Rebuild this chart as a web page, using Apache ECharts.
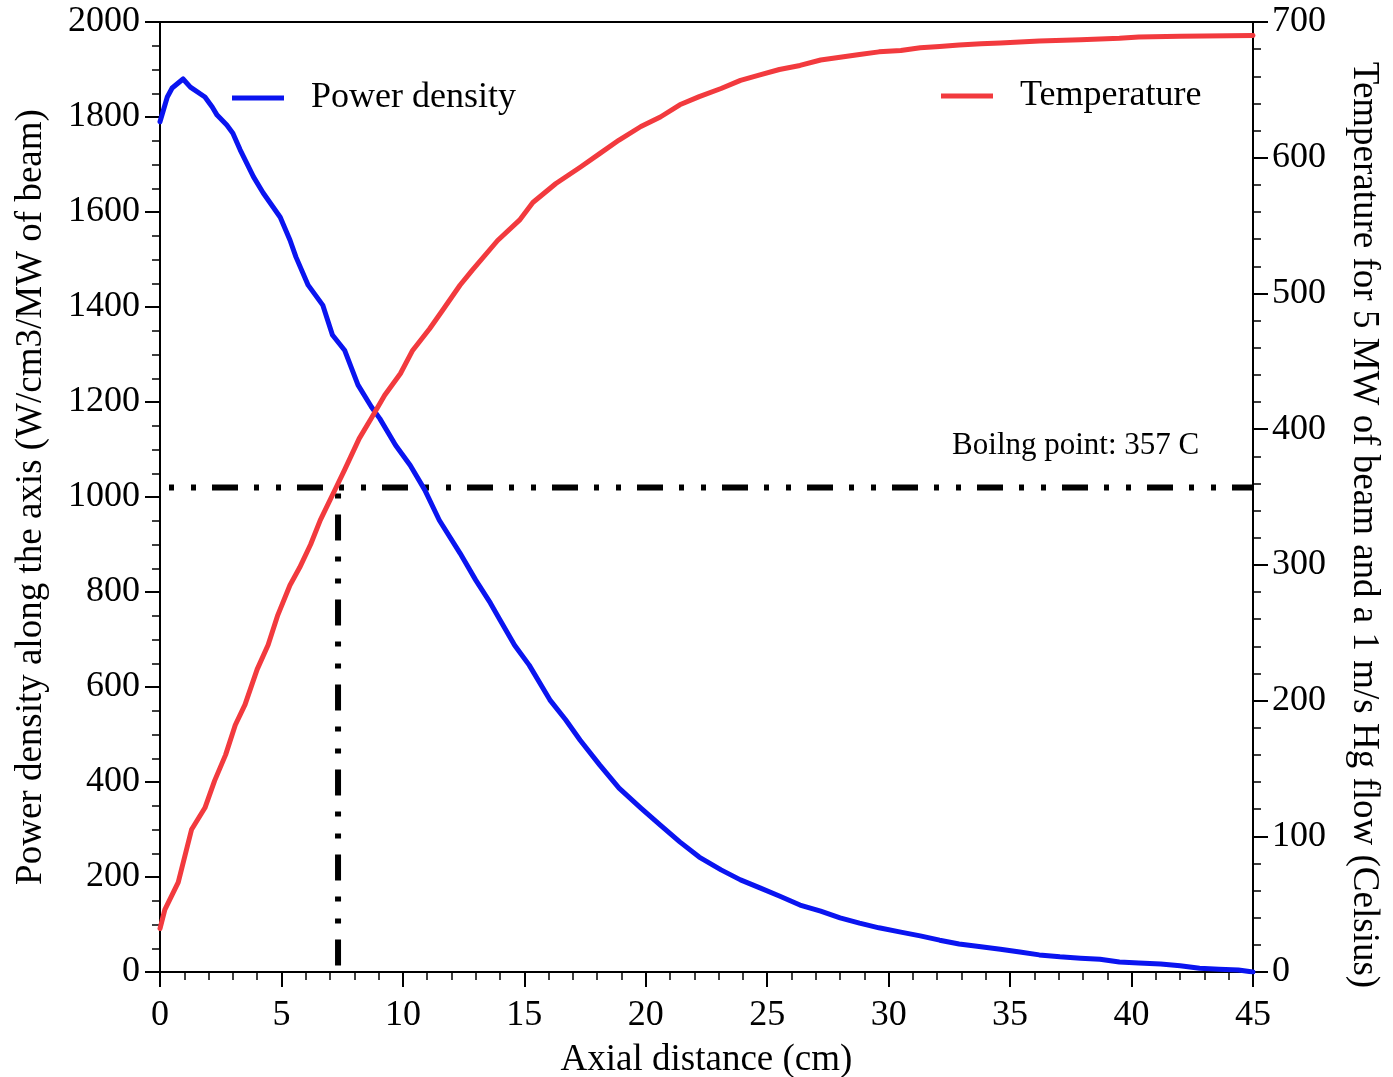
<!DOCTYPE html>
<html>
<head>
<meta charset="utf-8">
<script src="https://cdn.jsdelivr.net/npm/echarts@6/dist/echarts.min.js"></script>
<style>
  html, body { margin: 0; padding: 0; background: #fff; }
  #chart { width: 1393px; height: 1077px; }
</style>
</head>
<body>
<div id="chart"></div>
<script>
// Axial power density (left axis) and coolant temperature (right axis)
const powerX = [0, 0.3, 0.5, 0.95, 1.25, 1.85, 2.15, 2.35, 2.75, 3.0, 3.3, 3.85, 4.25, 4.95, 5.35, 5.6, 6.1, 6.7, 7.1, 7.6,
  8.15, 8.7, 9.05, 9.7, 10.3, 10.9, 11.5, 12.35, 13.0, 13.6, 14.0, 14.6, 15.2, 16.05, 16.7, 17.3, 18.1, 18.9, 19.8, 20.6,
  21.4, 22.2, 23.1, 23.9, 24.7, 25.5, 26.35, 27.2, 28.0, 28.8, 29.6, 30.5, 31.3, 32.1, 32.9, 33.8, 34.6, 35.4, 36.2, 37.05,
  37.9, 38.7, 39.5, 40.3, 41.2, 42.0, 42.8, 43.6, 44.4, 45];
const powerDensity = [1790, 1842, 1861, 1880, 1863, 1842, 1821, 1804, 1783, 1766, 1731, 1674, 1640, 1589, 1541, 1505, 1446, 1404, 1341, 1309,
  1236, 1190, 1165, 1109, 1067, 1015, 951, 882, 825, 777, 741, 688, 646, 573, 531, 488, 436, 387, 345, 309,
  274, 242, 215, 194, 177, 160, 141, 128, 114, 103, 93, 84, 76, 67, 59, 53, 48, 42, 36, 32,
  29, 27, 21, 19, 17, 13, 8, 6, 4, 0];

const tempX = [0, 0.2, 0.75, 1.3, 1.85, 2.25, 2.7, 3.1, 3.5, 4.0, 4.45, 4.85, 5.35, 5.75, 6.2, 6.6, 7.25, 7.6, 8.2, 8.7,
  9.25, 9.9, 10.4, 11.1, 11.65, 12.35, 12.85, 13.9, 14.8, 15.35, 16.3, 17.3, 18.1, 18.9, 19.8, 20.6, 21.4, 22.2, 23.1, 23.9,
  24.7, 25.5, 26.35, 27.2, 28.0, 28.8, 29.6, 30.5, 31.3, 32.1, 32.9, 33.8, 34.6, 36.2, 37.9, 39.5, 40.3, 42, 45];
const temperature = [32, 46, 66, 105, 121, 141, 160, 182, 197, 223, 241, 263, 285, 298, 315, 333, 357, 370, 393, 408,
  425, 441, 458, 474, 488, 506, 517, 539, 554, 567, 581, 593, 603, 613, 623, 630, 639, 645, 651, 657,
  661, 665, 668, 672, 674, 676, 678, 679, 681, 682, 683, 684, 684.5, 686, 687, 688, 689, 689.5, 690];

// Boiling point of mercury and the distance where the coolant reaches it
const boilingPoint = 357;
const boilingDistance = 7.33;
const boilingLabelX = 37.7;

const xTicks = { min: 0, max: 45, interval: 5 };
const leftTicks = { min: 0, max: 2000, interval: 200 };
const rightTicks = { min: 0, max: 700, interval: 100 };

const FONT = '"Liberation Serif", "Times New Roman", serif';
const BLUE = '#0a14f0';
const RED = '#f23a3e';
const dashDot = [26, 16, 5, 17, 5, 16];

const zip = (xs, ys) => xs.map((x, i) => [x, ys[i]]);
const plain = v => String(v);

const axisCommon = {
  axisLine: { show: true, lineStyle: { color: '#000', width: 2 } },
  axisTick: { show: true, inside: false, length: 15, lineStyle: { color: '#000', width: 2 } },
  minorTick: { show: true, length: 8, lineStyle: { color: '#000', width: 1.5 } },
  splitLine: { show: false },
  axisLabel: { color: '#000', fontFamily: FONT, fontSize: 36, formatter: plain },
  nameTextStyle: { color: '#000', fontFamily: FONT, fontSize: 37 },
  nameLocation: 'middle'
};

const legendText = { fontFamily: FONT, fontSize: 36, color: '#000', padding: [0, 0, 0, 22], lineHeight: 40 };

const chart = echarts.init(document.getElementById('chart'), null, { renderer: 'canvas' });
chart.setOption({
  animation: false,
  backgroundColor: '#fff',
  grid: {
    left: 160, right: 140, top: 22, bottom: 105,
    outerBoundsMode: 'none', containLabel: false,
    show: true, borderColor: '#000', borderWidth: 2, backgroundColor: 'transparent'
  },
  legend: [
    {
      data: ['Power density'], left: 232, top: 78, padding: 0,
      icon: 'rect', itemWidth: 52, itemHeight: 5, textStyle: legendText
    },
    {
      data: ['Temperature'], left: 941, top: 76, padding: 0,
      icon: 'rect', itemWidth: 52, itemHeight: 5, textStyle: legendText
    }
  ],
  xAxis: Object.assign({}, axisCommon, {
    type: 'value', min: xTicks.min, max: xTicks.max, interval: xTicks.interval,
    minorTick: Object.assign({}, axisCommon.minorTick, { splitNumber: 5 }),
    axisLabel: Object.assign({}, axisCommon.axisLabel, { margin: 26 }),
    name: 'Axial distance (cm)', nameGap: 70
  }),
  yAxis: [
    Object.assign({}, axisCommon, {
      type: 'value', position: 'left', min: leftTicks.min, max: leftTicks.max, interval: leftTicks.interval,
      minorTick: Object.assign({}, axisCommon.minorTick, { splitNumber: 4 }),
      axisLabel: Object.assign({}, axisCommon.axisLabel, { margin: 20 }),
      name: 'Power density along the axis (W/cm3/MW of beam)', nameGap: 110
    }),
    Object.assign({}, axisCommon, {
      type: 'value', position: 'right', min: rightTicks.min, max: rightTicks.max, interval: rightTicks.interval,
      minorTick: Object.assign({}, axisCommon.minorTick, { splitNumber: 5 }),
      axisLabel: Object.assign({}, axisCommon.axisLabel, { margin: 19 }),
      name: 'Temperature for 5 MW of beam and a 1 m/s Hg flow (Celsius)', nameGap: 92, nameRotate: -90,
      nameTextStyle: Object.assign({}, axisCommon.nameTextStyle, { padding: [0, 0, 0, 56] })
    })
  ],
  series: [
    {
      name: 'Power density', type: 'line', yAxisIndex: 0,
      data: zip(powerX, powerDensity), showSymbol: false, symbol: 'none',
      itemStyle: { color: BLUE },
      lineStyle: { color: BLUE, width: 5, join: 'round', cap: 'round' },
      z: 3
    },
    {
      name: 'Temperature', type: 'line', yAxisIndex: 1,
      data: zip(tempX, temperature), showSymbol: false, symbol: 'none',
      itemStyle: { color: RED },
      lineStyle: { color: RED, width: 5, join: 'round', cap: 'round' },
      z: 4
    },
    {
      name: 'boiling-level', type: 'line', yAxisIndex: 1,
      data: [[xTicks.min, boilingPoint], [xTicks.max, boilingPoint]],
      showSymbol: false, symbol: 'none', silent: true,
      lineStyle: { color: '#000', width: 6, type: dashDot, dashOffset: 33, cap: 'butt' },
      z: 2,
      markPoint: {
        silent: true,
        symbol: 'circle', symbolSize: 0,
        itemStyle: { color: '#000', opacity: 1 },
        data: [{ coord: [boilingLabelX, boilingPoint] }],
        label: {
          show: true, position: 'top', distance: 26,
          formatter: 'Boilng point: ' + boilingPoint + ' C',
          fontFamily: FONT, fontSize: 31, color: '#000', opacity: 1
        }
      }
    },
    {
      name: 'boiling-distance', type: 'line', yAxisIndex: 1,
      data: [[boilingDistance, boilingPoint], [boilingDistance, 0]],
      showSymbol: false, symbol: 'none', silent: true,
      lineStyle: { color: '#000', width: 6, type: dashDot, dashOffset: 58, cap: 'butt' },
      z: 2
    }
  ]
});
</script>
</body>
</html>
